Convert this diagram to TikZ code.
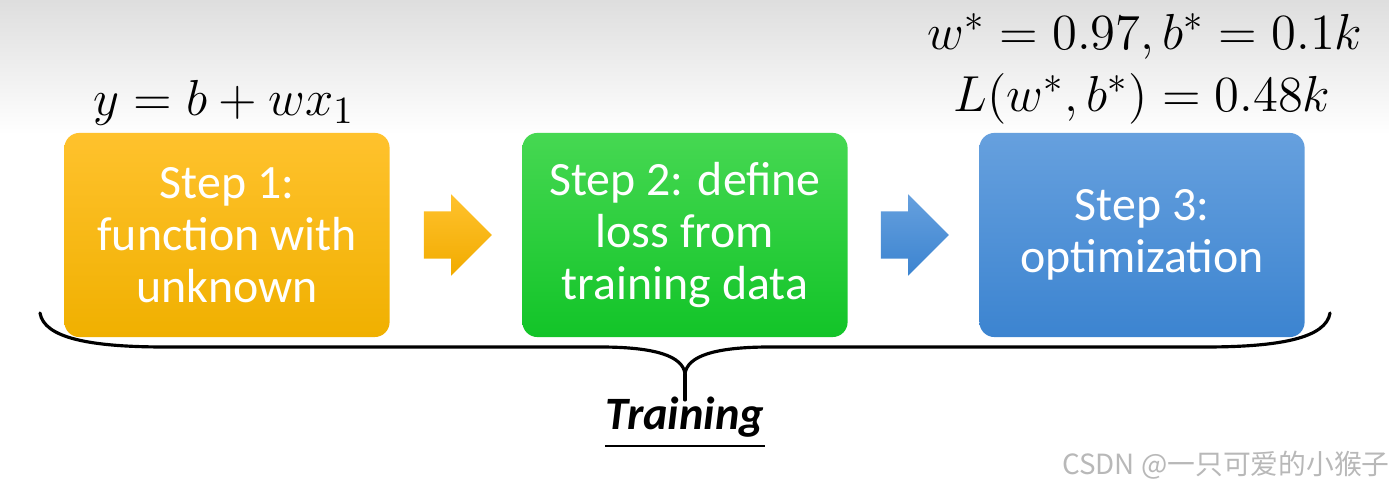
\documentclass[tikz,border=0pt]{standalone}
\usepackage{amsmath}
\usepackage{fontspec}
\setmainfont{Carlito}
\newfontfamily\cjkfont{Noto Sans CJK SC}
\usetikzlibrary{positioning,shapes.arrows}
\definecolor{stepone}{RGB}{255,194,45}
\definecolor{steponeb}{RGB}{240,176,0}
\definecolor{steptwo}{RGB}{70,216,82}
\definecolor{steptwob}{RGB}{18,196,40}
\definecolor{stepthree}{RGB}{102,160,222}
\definecolor{stepthreeb}{RGB}{60,132,208}
\tikzset{
  stepbox/.style={rounded corners=0.15cm, inner sep=0pt,
    minimum width=3.25cm, minimum height=2.04cm,
    text=white, align=center,
    font=\fontsize{13.6}{14.8}\selectfont},
  steparr/.style={single arrow, inner xsep=0pt, inner ysep=0.23cm,
    single arrow head extend=0.17cm, minimum height=0.68cm,
    shape border rotate=0},
  mathlbl/.style={font=\fontsize{15}{18}\selectfont, inner sep=0pt},
  bracepath/.style={line width=0.9pt, line cap=round, line join=round},
}

\begin{document}
\begin{tikzpicture}[x=0.01cm, y=-0.01cm]
  \useasboundingbox (0,0) rectangle (1389,489);
  % background
  \shade[top color=black!13, bottom color=white] (0,0) rectangle (1389,135);
  % Steps
  \node[stepbox, top color=stepone, bottom color=steponeb] at (227,235) (s1)
    {Step 1:\\function with\\unknown};
  \node[stepbox, top color=steptwo, bottom color=steptwob] at (685,235) (s2)
    {Step 2: define\\loss from\\training data};
  \node[stepbox, top color=stepthree, bottom color=stepthreeb] at (1142,235) (s3)
    {Step 3:\\optimization};
  % Arrows between steps
  \node[steparr, top color=stepone, bottom color=steponeb!90!orange] at (446,235) (a1) {};
  \node[steparr, top color=stepthree, bottom color=stepthreeb] at (903,235) (a2) {};
  % Labels
  \node[mathlbl] at (224,103) (f1) {$y = b + wx_1$};
  \node[mathlbl, anchor=base] at (1145,50) (opt) {$w^{*} = 0.97, b^{*} = 0.1k$};
  \node[mathlbl, anchor=base] at (1142,112) (loss) {$L(w^{*}, b^{*}) = 0.48k$};
  % Brace
  \coordinate (bl) at (40,313);
  \coordinate (br) at (1330,313);
  \coordinate (bm) at (685,374);
  \coordinate (bt) at (685,400);
  \draw[bracepath] (bl) .. controls (44,338) and (90,347) .. (165,347)
    -- (600,347) .. controls (655,347) and (683,356) .. (bm)
    .. controls (687,356) and (715,347) .. (770,347)
    -- (1205,347) .. controls (1280,347) and (1326,338) .. (br);
  \draw[bracepath] (bm) -- (bt);
  \node[font=\fontsize{13.2}{15}\selectfont\bfseries\itshape, inner sep=0pt,
    anchor=base] at (685,430) (train) {Training};
  \coordinate (ul) at (0,446);
  \draw[line width=0.7pt] (train.west |- ul) -- (train.east |- ul);
  % Watermark
  \node[font=\cjkfont\fontsize{7.9}{9}\selectfont, text=black!28, inner sep=0pt]
    at (1226,465) (wm) {CSDN @一只可爱的小猴子};
\end{tikzpicture}
\end{document}
